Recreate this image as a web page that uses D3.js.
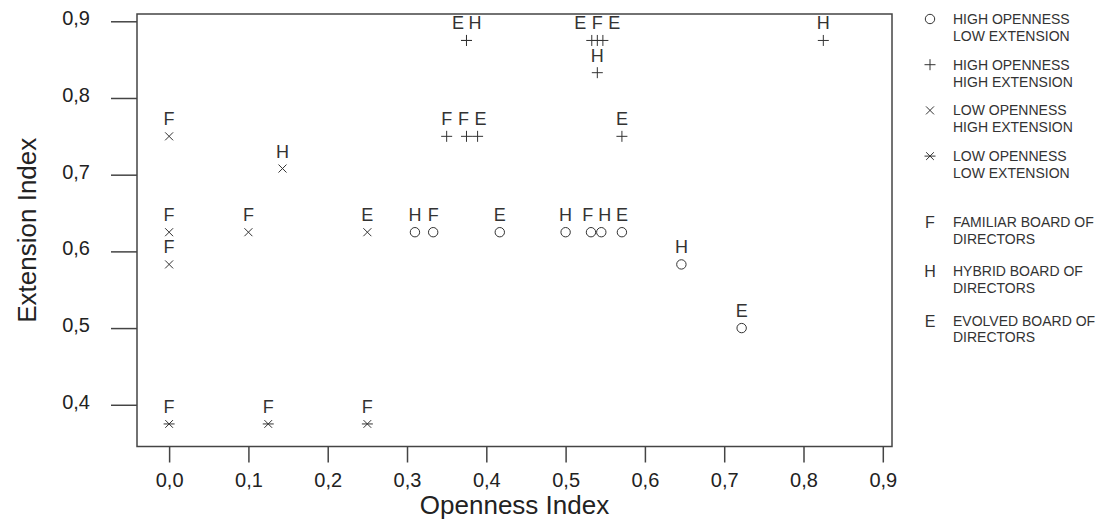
<!DOCTYPE html>
<html>
<head>
<meta charset="utf-8">
<script src="https://cdn.jsdelivr.net/npm/d3@7"></script>
<style>
  body { margin: 0; background: #fff; }
  svg { display: block; font-family: "Liberation Sans", Arial, sans-serif; }
</style>
</head>
<body>
<div id="viz"></div>
<script>
// openness / extension index of each firm, with its profile and board type
const openness  = [0.375, 0.375, 0.533, 0.540, 0.547, 0.540, 0.825, 0.350, 0.375, 0.389, 0.571,
                   0.000, 0.143, 0.000, 0.000, 0.100, 0.250,
                   0.310, 0.333, 0.417, 0.500, 0.532, 0.545, 0.571, 0.646, 0.722,
                   0.000, 0.125, 0.250];
const extension = [0.875, 0.875, 0.875, 0.875, 0.875, 0.833, 0.875, 0.750, 0.750, 0.750, 0.750,
                   0.750, 0.708, 0.625, 0.583, 0.625, 0.625,
                   0.625, 0.625, 0.625, 0.625, 0.625, 0.625, 0.625, 0.583, 0.500,
                   0.375, 0.375, 0.375];
const profile   = ["HH", "HH", "HH", "HH", "HH", "HH", "HH", "HH", "HH", "HH", "HH",
                   "LH", "LH", "LH", "LH", "LH", "LH",
                   "HL", "HL", "HL", "HL", "HL", "HL", "HL", "HL", "HL",
                   "LL", "LL", "LL"];
const board     = ["E", "H", "E", "F", "E", "H", "H", "F", "F", "E", "E",
                   "F", "H", "F", "F", "F", "E",
                   "H", "F", "E", "H", "F", "H", "E", "H", "E",
                   "F", "F", "F"];

const xTicks = [0, 0.1, 0.2, 0.3, 0.4, 0.5, 0.6, 0.7, 0.8, 0.9];
const yTicks = [0.4, 0.5, 0.6, 0.7, 0.8, 0.9];

const profileKeys   = ["HL", "HH", "LH", "LL"];
const profileLabels = [["HIGH OPENNESS", "LOW EXTENSION"], ["HIGH OPENNESS", "HIGH EXTENSION"],
                       ["LOW OPENNESS", "HIGH EXTENSION"], ["LOW OPENNESS", "LOW EXTENSION"]];
const boardKeys   = ["F", "H", "E"];
const boardLabels = [["FAMILIAR BOARD OF", "DIRECTORS"], ["HYBRID BOARD OF", "DIRECTORS"],
                     ["EVOLVED BOARD OF", "DIRECTORS"]];

const W = 1101, H = 524;
const ink = "#333";

// R-like stroked symbols; size is used as half width
const symCircle = { draw(c, r) { c.moveTo(r, 0); c.arc(0, 0, r, 0, 2 * Math.PI); } };
const symPlus = { draw(c, r) { c.moveTo(-r, 0); c.lineTo(r, 0); c.moveTo(0, -r); c.lineTo(0, r); } };
const symTimes = { draw(c, r) { const a = r * 0.8; c.moveTo(-a, -a); c.lineTo(a, a); c.moveTo(-a, a); c.lineTo(a, -a); } };
const symStar = { draw(c, r) { const a = r * 0.7; c.moveTo(-r, 0); c.lineTo(r, 0); c.moveTo(-a, -a); c.lineTo(a, a); c.moveTo(-a, a); c.lineTo(a, -a); } };
const shape = d3.scaleOrdinal().domain(profileKeys).range([symCircle, symPlus, symTimes, symStar]);
const shapeSize = d3.scaleOrdinal().domain(profileKeys).range([4.7, 5.5, 5, 5.5]);
const symbol = k => d3.symbol().type(shape(k)).size(shapeSize(k))();

const x = d3.scaleLinear().domain([-0.0405, 0.9116]).range([137, 892]);
const y = d3.scaleLinear().domain([0.3456, 0.9095]).range([446.5, 14]);

const fmt = d => d3.format(".1f")(d).replace(".", ",");

const svg = d3.select("#viz").append("svg")
    .attr("width", W)
    .attr("height", H);

svg.append("rect")
    .attr("x", x.range()[0]).attr("y", y.range()[1])
    .attr("width", x.range()[1] - x.range()[0])
    .attr("height", y.range()[0] - y.range()[1])
    .attr("fill", "none").attr("stroke", "#444").attr("stroke-width", 1.5);

const xAxis = svg.append("g")
    .attr("transform", `translate(0,${y.range()[0]})`)
    .call(d3.axisBottom(x).tickValues(xTicks).tickFormat(fmt).tickSize(16).tickPadding(10));
const yAxis = svg.append("g")
    .attr("transform", `translate(${x.range()[0]},0)`)
    .call(d3.axisLeft(y).tickValues(yTicks).tickFormat(fmt).tickSize(26).tickPadding(21));

for (const ax of [xAxis, yAxis]) {
  ax.attr("font-size", 20).attr("font-family", "Liberation Sans, Arial, sans-serif");
  ax.select(".domain").remove();
  ax.selectAll(".tick line").attr("stroke", "#444").attr("stroke-width", 1.5);
  ax.selectAll(".tick text").attr("fill", "#222");
}
yAxis.selectAll(".tick text").attr("dy", "0.18em");

svg.append("text")
    .attr("x", (x.range()[0] + x.range()[1]) / 2).attr("y", 514)
    .attr("text-anchor", "middle").attr("font-size", 26).attr("fill", "#222")
    .text("Openness Index");

svg.append("text")
    .attr("transform", `translate(36,${(y.range()[0] + y.range()[1]) / 2}) rotate(-90)`)
    .attr("text-anchor", "middle").attr("font-size", 26).attr("fill", "#222")
    .text("Extension Index");

const points = openness.map((o, i) => ({ o, e: extension[i], p: profile[i], b: board[i] }));

svg.append("g")
  .selectAll("path")
  .data(points)
  .join("path")
    .attr("transform", d => `translate(${x(d.o)},${y(d.e)})`)
    .attr("d", d => symbol(d.p))
    .attr("fill", "none").attr("stroke", ink).attr("stroke-width", 1);

// board letters sit above the points; spread the ones that would overlap
const minGap = 17;
const labels = points.map(d => ({ b: d.b, px: x(d.o), py: y(d.e) }));
d3.groups(labels, d => Math.round(d.py)).forEach(([, row]) => {
  row.sort((a, b) => a.px - b.px);
  let cluster = [row[0]];
  const flush = () => {
    const c = d3.mean(cluster, d => d.px);
    cluster.forEach((d, i) => d.lx = c + (i - (cluster.length - 1) / 2) * minGap);
  };
  for (let i = 1; i < row.length; i++) {
    if (row[i].px - row[i - 1].px < minGap) cluster.push(row[i]);
    else { flush(); cluster = [row[i]]; }
  }
  flush();
});

svg.append("g")
    .attr("font-size", 18)
    .attr("fill", ink)
    .attr("text-anchor", "middle")
  .selectAll("text")
  .data(labels)
  .join("text")
    .attr("x", d => d.lx)
    .attr("y", d => d.py - 11)
    .text(d => d.b);

// legends
const legendX = 930, legendTextX = 953;
const leg1 = svg.append("g").selectAll("g")
  .data(profileKeys)
  .join("g")
    .attr("transform", (d, i) => `translate(0,${19 + i * 45.7})`);
leg1.append("path")
    .attr("transform", `translate(${legendX},0)`)
    .attr("d", d => symbol(d))
    .attr("fill", "none").attr("stroke", ink).attr("stroke-width", 1);
leg1.each(function(d, i) {
  d3.select(this).selectAll("text")
    .data(profileLabels[i])
    .join("text")
      .attr("x", legendTextX)
      .attr("y", (t, j) => j * 17 + 5)
      .attr("font-size", 14).attr("fill", "#333")
      .text(t => t);
});

const leg2 = svg.append("g").selectAll("g")
  .data(boardKeys)
  .join("g")
    .attr("transform", (d, i) => `translate(0,${222 + i * 49.3})`);
leg2.append("text")
    .attr("x", legendX).attr("y", 6)
    .attr("text-anchor", "middle")
    .attr("font-size", 16).attr("fill", ink)
    .text(d => d);
leg2.each(function(d, i) {
  d3.select(this).selectAll("text.l")
    .data(boardLabels[i])
    .join("text")
      .attr("class", "l")
      .attr("x", legendTextX)
      .attr("y", (t, j) => j * 16.5 + 5)
      .attr("font-size", 14).attr("fill", "#333")
      .text(t => t);
});
</script>
</body>
</html>
